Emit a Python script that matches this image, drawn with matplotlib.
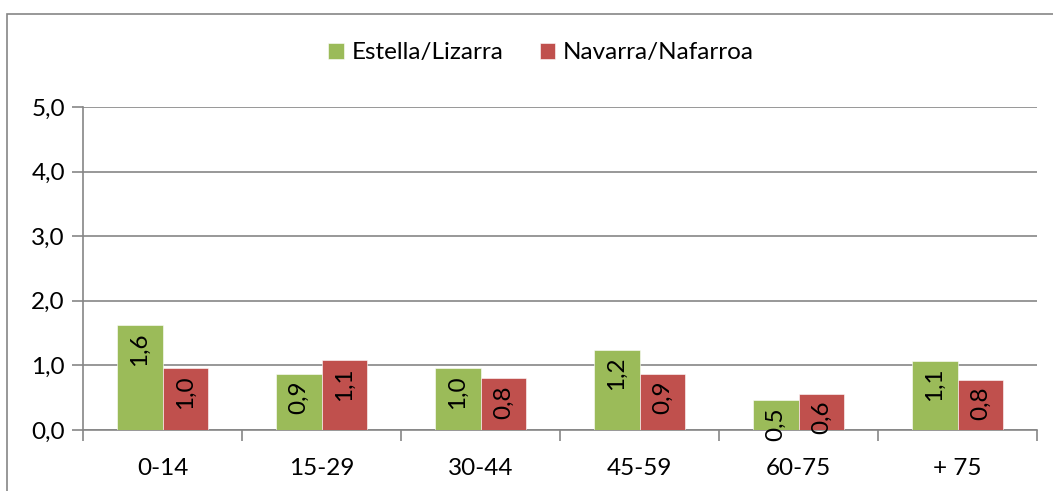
import numpy as np
import matplotlib
matplotlib.use('Agg')
import matplotlib.pyplot as plt
from matplotlib.patches import Rectangle

# Datos
grupos = ['0-14', '15-29', '30-44', '45-59', '60-75', '+ 75']
estella = [1.62, 0.87, 0.96, 1.24, 0.46, 1.07]
navarra = [0.96, 1.08, 0.80, 0.87, 0.56, 0.78]
series = ['Estella/Lizarra', 'Navarra/Nafarroa']
colores = ['#9BBB59', '#C0504D']

plt.rcParams['font.family'] = ['Lato', 'DejaVu Sans']
gris = '#868686'
tam = 17.5

fig = plt.figure(figsize=(10.53, 4.91), dpi=100)
ax = fig.add_axes([83 / 1053, 1 - 430 / 491, (1037 - 83) / 1053, (430 - 107) / 491])

# marco del gráfico
fig.patches.append(Rectangle((7 / 1053, -0.1), 1.2, 1 - 14 / 491 + 0.1,
                             transform=fig.transFigure, fill=False,
                             edgecolor=gris, linewidth=1.2))

x = np.arange(len(grupos))
ancho = 0.285
for i, (vals, nombre) in enumerate(zip([estella, navarra], series)):
    pos = x + (i - 0.5) * ancho
    ax.bar(pos, vals, ancho, color=colores[i], label=nombre,
           edgecolor='white', linewidth=0.4, zorder=3)
    for xi, v in zip(pos, vals):
        ax.annotate(f'{v:.1f}'.replace('.', ','), (xi, v), xytext=(0, -5),
                    textcoords='offset points', rotation=90,
                    ha='center', va='top', fontsize=tam, zorder=4)

ax.set_xlim(-0.5, len(grupos) - 0.5)
ax.set_ylim(0, 5)
ax.set_yticks(np.arange(0, 5.1, 1))
ax.set_yticklabels([f'{v:.1f}'.replace('.', ',') for v in np.arange(0, 5.1, 1)])
ax.yaxis.grid(True, color=gris, linewidth=1.2, zorder=0)

ax.set_xticks(x)
ax.set_xticklabels(grupos)
ax.set_xticks(np.arange(-0.5, len(grupos)), minor=True)
ax.tick_params(axis='x', which='major', length=0, pad=20, labelsize=tam)
ax.tick_params(axis='x', which='minor', length=8, width=1.2, color=gris)
ax.tick_params(axis='y', length=8, width=1.2, color=gris, labelsize=tam, pad=5)

for lado in ['top', 'right']:
    ax.spines[lado].set_visible(False)
for lado in ['left', 'bottom']:
    ax.spines[lado].set_color(gris)
    ax.spines[lado].set_linewidth(1.2)

fig.legend(loc='center', bbox_to_anchor=(541 / 1053, 1 - 53 / 491), ncol=2,
           frameon=False, fontsize=tam, handlelength=0.65, handleheight=0.65,
           handletextpad=0.3, columnspacing=1.5)

plt.savefig('out.png', dpi=100)
